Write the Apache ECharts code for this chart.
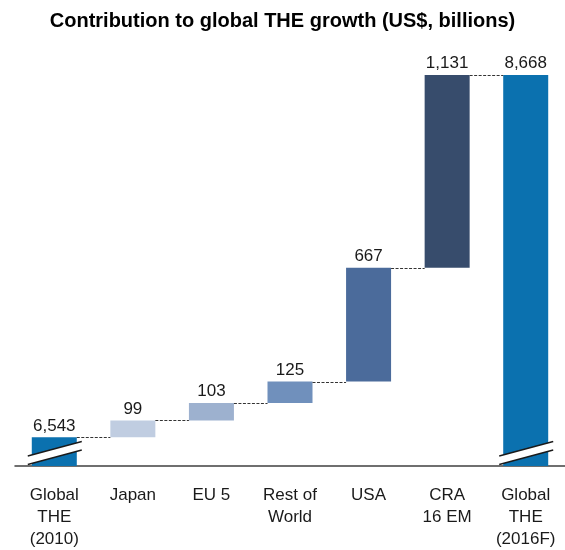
<!DOCTYPE html>
<html>
<head>
<meta charset="utf-8">
<script src="https://cdn.jsdelivr.net/npm/echarts@6/dist/echarts.min.js"></script>
<style>html,body{margin:0;padding:0;background:#fff;}#chart{width:565px;height:550px;}</style>
</head>
<body>
<div id="chart"></div>
<script>
const categories = ['Global\nTHE\n(2010)', 'Japan', 'EU 5', 'Rest of\nWorld', 'USA', 'CRA\n16 EM', 'Global\nTHE\n(2016F)'];
const values = [6543, 99, 103, 125, 667, 1131, 8668];
const isTotal = [true, false, false, false, false, false, true];
const barColors = ['#0b71af', '#c0cde1', '#9db1cf', '#7090bc', '#4b6b9b', '#374c6c', '#0b71af'];
const axisMin = 6375;
const axisMax = 8668;

// derive waterfall bases and levels from the values
const bases = [];
const levels = [];
let running = 0;
values.forEach((v, i) => {
  if (isTotal[i]) { bases.push(0); running = v; }
  else { bases.push(running); running += v; }
  levels.push(running);
});

const FONT = 'Liberation Sans, Arial, sans-serif';
const BAR_W = 45;

const chart = echarts.init(document.getElementById('chart'), null, { renderer: 'canvas' });
chart.setOption({
  animation: false,
  backgroundColor: '#ffffff',
  title: {
    text: 'Contribution to global THE growth (US$, billions)',
    left: 'center',
    top: 6,
    textStyle: { fontFamily: FONT, fontSize: 20, fontWeight: 'bold', color: '#000' }
  },
  grid: { left: 15, right: -4, top: 75, bottom: 79, containLabel: false },
  xAxis: {
    type: 'category',
    data: categories,
    axisLine: { lineStyle: { color: '#404040', width: 1.5 } },
    axisTick: { show: false },
    axisLabel: { interval: 0, fontFamily: FONT, fontSize: 17, color: '#1a1a1a', lineHeight: 22, margin: 18 }
  },
  yAxis: { type: 'value', min: axisMin, max: axisMax, show: false, splitLine: { show: false } },
  series: [
    {
      type: 'bar', stack: 'wf', barWidth: BAR_W, silent: true,
      itemStyle: { color: 'rgba(0,0,0,0)' },
      data: bases
    },
    {
      type: 'bar', stack: 'wf', barWidth: BAR_W,
      data: values.map((v, i) => ({ value: v, itemStyle: { color: barColors[i] } })),
      label: {
        show: true, position: 'top', distance: 3,
        fontFamily: FONT, fontSize: 17, color: '#1a1a1a',
        formatter: p => values[p.dataIndex].toLocaleString('en-US')
      }
    },
    {
      type: 'custom', z: 5, silent: true,
      data: levels.slice(0, levels.length - 1).map((lv, i) => [i, lv]),
      renderItem: (params, api) => {
        const i = api.value(0), lv = api.value(1);
        const p1 = api.coord([i, lv]);
        const p2 = api.coord([i + 1, lv]);
        return {
          type: 'line',
          shape: { x1: p1[0] + BAR_W / 2, y1: Math.round(p1[1]) + 0.5, x2: p2[0] - BAR_W / 2, y2: Math.round(p1[1]) + 0.5 },
          style: { stroke: '#333', lineWidth: 1, lineDash: [3, 1.5] }
        };
      }
    },
    {
      type: 'custom', z: 6, silent: true, clip: false,
      data: isTotal.map((t, i) => t ? [i, axisMin] : null).filter(d => d),
      renderItem: (params, api) => {
        const c = api.coord([api.value(0), api.value(1)]);
        const x = c[0], yb = c[1];
        const xa = x - 26.5, xb = x + 27.5;
        const lo1 = yb - 1.5, lo2 = yb - 16, up1 = yb - 10, up2 = yb - 24.5;
        return {
          type: 'group',
          children: [
            { type: 'polygon', shape: { points: [[xa, lo1], [xb, lo2], [xb, up2], [xa, up1]] }, style: { fill: '#fff' } },
            { type: 'line', shape: { x1: xa, y1: lo1, x2: xb, y2: lo2 }, style: { stroke: '#1a1a1a', lineWidth: 1.3 } },
            { type: 'line', shape: { x1: xa, y1: up1, x2: xb, y2: up2 }, style: { stroke: '#1a1a1a', lineWidth: 1.3 } }
          ]
        };
      }
    }
  ]
});
</script>
</body>
</html>
